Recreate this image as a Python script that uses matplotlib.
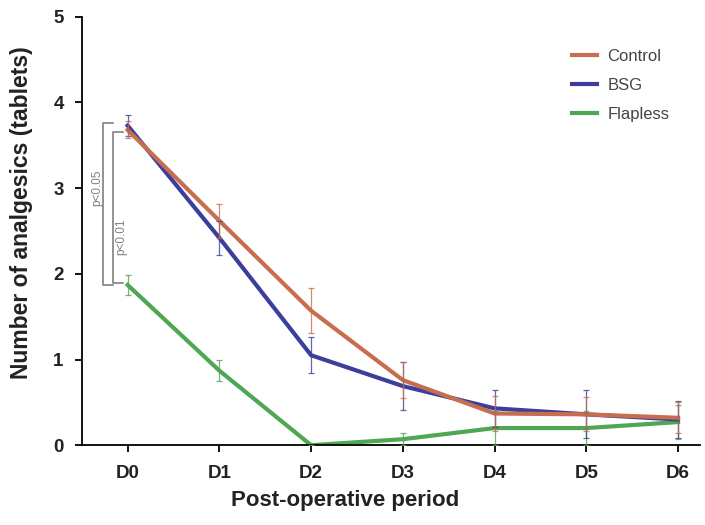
import numpy as np
import matplotlib
matplotlib.use('agg')
import matplotlib.pyplot as plt
from matplotlib.lines import Line2D

plt.rcParams['font.family'] = ['Liberation Sans', 'DejaVu Sans']

days = ['D0', 'D1', 'D2', 'D3', 'D4', 'D5', 'D6']
control = [3.68, 2.62, 1.57, 0.76, 0.37, 0.36, 0.32]
control_err = [0.10, 0.20, 0.26, 0.21, 0.20, 0.20, 0.18]
bsg = [3.73, 2.42, 1.05, 0.69, 0.43, 0.36, 0.30]
bsg_err = [0.12, 0.20, 0.21, 0.28, 0.22, 0.28, 0.22]
flapless = [1.87, 0.87, 0.0, 0.07, 0.20, 0.20, 0.27]
flapless_err = [0.12, 0.12, 0.0, 0.07, 0.20, 0.20, 0.20]

c_control = '#c86e4e'
c_bsg = '#3b3f9b'
c_flap = '#4fa653'

x = np.arange(len(days))

fig = plt.figure(figsize=(7.05, 5.25), dpi=100)
ax = fig.add_axes([0.116, 0.152, 0.877, 0.816])

series = [(flapless, flapless_err, c_flap, 'Flapless', 2),
          (bsg, bsg_err, c_bsg, 'BSG', 3),
          (control, control_err, c_control, 'Control', 4)]
for y, e, c, lab, z in series:
    ax.plot(x, y, color=c, lw=3, zorder=z)
for y, e, c, lab, z in series:
    ax.errorbar(x, y, yerr=e, fmt='none', ecolor=c, elinewidth=0.9, capsize=2,
                capthick=0.9, alpha=0.8, zorder=5)

# significance brackets
gray = '#808080'
ax.plot([-0.16, -0.27, -0.27, -0.16], [3.76, 3.76, 1.87, 1.87], color=gray, lw=1.2, clip_on=False)
ax.plot([-0.055, -0.16, -0.16, -0.055], [3.66, 3.66, 1.89, 1.89], color=gray, lw=1.2, clip_on=False)
ax.text(-0.33, 3.01, 'p<0.05', rotation=90, fontsize=8.5, color=gray, ha='center', va='center')
ax.text(-0.07, 2.43, 'p<0.01', rotation=90, fontsize=8.5, color=gray, ha='center', va='center')

ax.set_xlim(-0.5, 6.24)
ax.set_ylim(0, 5)
ax.set_xticks(x)
ax.set_xticklabels(days)
ax.set_yticks(range(6))
ax.spines['top'].set_visible(False)
ax.spines['right'].set_visible(False)
ax.spines['left'].set_linewidth(1.3)
ax.spines['bottom'].set_linewidth(1.3)
ax.tick_params(width=1.3, length=5)
ax.tick_params(axis='y', pad=8)
ax.tick_params(axis='x', pad=9)
for t in ax.get_xticklabels() + ax.get_yticklabels():
    t.set_fontweight('bold')
    t.set_fontsize(13.5)
    t.set_color('#222222')
ax.set_xlabel('Post-operative period', fontsize=16, fontweight='bold', color='#222222')
ax.set_ylabel('Number of analgesics (tablets)', fontsize=16.5, fontweight='bold', color='#222222')
ax.xaxis.set_label_coords(0.426, -0.105)
ax.yaxis.set_label_coords(-0.079, 0.542)

handles = [Line2D([], [], color=c_control, lw=3),
           Line2D([], [], color=c_bsg, lw=3),
           Line2D([], [], color=c_flap, lw=3)]
ax.legend(handles, ['Control', 'BSG', 'Flapless'], loc='upper left',
          bbox_to_anchor=(0.769, 0.96), frameon=False, fontsize=12,
          handlelength=1.5, handletextpad=0.6, labelspacing=0.85, labelcolor='#444444')

fig.savefig('out.png', dpi=100)
